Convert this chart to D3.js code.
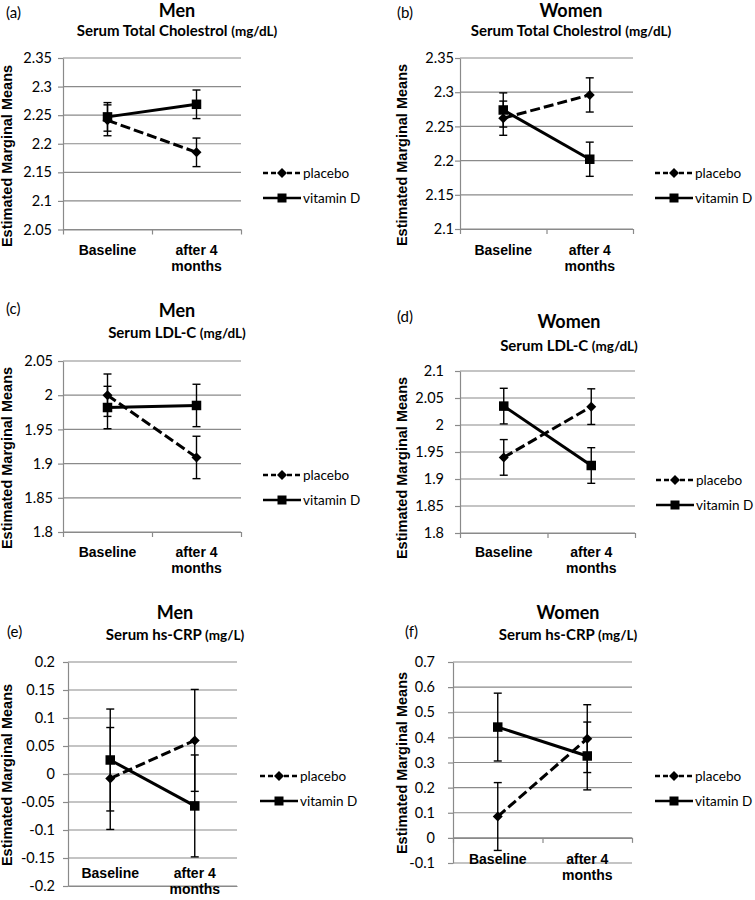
<!DOCTYPE html>
<html>
<head>
<meta charset="utf-8">
<script src="https://cdn.jsdelivr.net/npm/d3@7"></script>
<style>
  body { margin: 0; background: #fff; }
  svg { display: block; }
  .tick text { font-family: Lato, "Open Sans", sans-serif; font-size: 14.5px; fill: #000; }
</style>
</head>
<body>
<div id="chart"></div>
<script>
// Dados
const categories = ["Baseline", "after 4 months"];
const seriesNames = ["placebo", "vitamin D"];
const panelLetters = ["(a)", "(b)", "(c)", "(d)", "(e)", "(f)"];
const panelGroups = ["Men", "Women", "Men", "Women", "Men", "Women"];
const panelMeasures = ["Serum Total Cholestrol", "Serum Total Cholestrol", "Serum LDL-C", "Serum LDL-C", "Serum hs-CRP", "Serum hs-CRP"];
const panelUnits = ["(mg/dL)", "(mg/dL)", "(mg/dL)", "(mg/dL)", "(mg/L)", "(mg/L)"];
const yDomains = [[2.05, 2.35], [2.1, 2.35], [1.8, 2.05], [1.8, 2.1], [-0.2, 0.2], [-0.1, 0.7]];
const yTicks = [
  [2.05, 2.1, 2.15, 2.2, 2.25, 2.3, 2.35],
  [2.1, 2.15, 2.2, 2.25, 2.3, 2.35],
  [1.8, 1.85, 1.9, 1.95, 2, 2.05],
  [1.8, 1.85, 1.9, 1.95, 2, 2.05, 2.1],
  [-0.2, -0.15, -0.1, -0.05, 0, 0.05, 0.1, 0.15, 0.2],
  [-0.1, 0, 0.1, 0.2, 0.3, 0.4, 0.5, 0.6, 0.7]
];
const placeboMeans = [[2.241, 2.185], [2.262, 2.296], [2.000, 1.909], [1.940, 2.034], [-0.008, 0.060], [0.085, 0.395]];
const placeboErr = [[0.027, 0.025], [0.025, 0.025], [0.031, 0.031], [0.033, 0.033], [0.091, 0.091], [0.135, 0.135]];
const vitaminDMeans = [[2.247, 2.269], [2.274, 2.202], [1.982, 1.985], [2.035, 1.925], [0.025, -0.057], [0.441, 0.326]];
const vitaminDErr = [[0.025, 0.025], [0.025, 0.025], [0.031, 0.031], [0.033, 0.033], [0.091, 0.091], [0.135, 0.135]];
const xAxisAt = [2.05, 2.1, 1.8, 1.8, -0.2, 0];

// Posições de cada painel
const layout = [
  { left: 63, right: 241, top: 58, bottom: 229.5, cx: 177, titleY: 17, subY: 36, letterX: 6, letterY: 18, yTitleX: 12, yTitleY: 156, gap: 11, labelY: 255, legX: 263, legY: 173, xTicks: 5 },
  { left: 460, right: 633, top: 58, bottom: 229, cx: 571, titleY: 17, subY: 36, letterX: 397, letterY: 18, yTitleX: 407, yTitleY: 155, gap: 6, labelY: 255, legX: 655, legY: 173, xTicks: 5 },
  { left: 63, right: 241, top: 361, bottom: 532, cx: 177, titleY: 317, subY: 338, letterX: 6, letterY: 314, yTitleX: 12, yTitleY: 458, gap: 10, labelY: 557, legX: 263, legY: 475, xTicks: 5 },
  { left: 460, right: 635, top: 371, bottom: 533, cx: 569, titleY: 328, subY: 351, letterX: 397, letterY: 322, yTitleX: 407, yTitleY: 468, gap: 16, labelY: 557, legX: 656, legY: 480, xTicks: 5 },
  { left: 68, right: 237, top: 662, bottom: 886, cx: 175, titleY: 619, subY: 640, letterX: 7, letterY: 637, yTitleX: 12, yTitleY: 775, gap: 13, labelY: 878, legX: 260, legY: 776, xTicks: 0 },
  { left: 453, right: 632, top: 662, bottom: 863, cx: 568, titleY: 619, subY: 640, letterX: 405, letterY: 637, yTitleX: 407, yTitleY: 763, gap: 18, labelY: 864, legX: 655, legY: 776, xTicks: 5 }
];

const width = 755, height = 900;
const gridColor = "#8a8a8a";
const calibri = "Lato, 'Open Sans', sans-serif";
const arial = "'Liberation Sans', Arial, sans-serif";

const svg = d3.select("#chart").append("svg")
  .attr("width", width)
  .attr("height", height);

function drawDiamond(g, x, y, r) {
  g.append("path")
    .attr("d", `M${x},${y - r}L${x + r},${y}L${x},${y + r}L${x - r},${y}Z`)
    .attr("fill", "#000");
}

function drawSquare(g, x, y, s) {
  g.append("rect")
    .attr("x", x - s / 2).attr("y", y - s / 2)
    .attr("width", s).attr("height", s)
    .attr("fill", "#000");
}

layout.forEach((L, i) => {
  const g = svg.append("g");
  const x = d3.scaleBand().domain(categories).range([L.left, L.right]);
  const y = d3.scaleLinear().domain(yDomains[i]).range([L.bottom, L.top]);
  const cxOf = c => x(c) + x.bandwidth() / 2;

  // grade
  g.selectAll(".grid")
    .data(yTicks[i])
    .enter().append("line")
    .attr("x1", L.left).attr("x2", L.right)
    .attr("y1", d => y(d)).attr("y2", d => y(d))
    .attr("stroke", gridColor).attr("stroke-width", 1.2);

  // eixo y
  const yAxis = g.append("g")
    .attr("transform", `translate(${L.left},0)`)
    .call(d3.axisLeft(y).tickValues(yTicks[i]).tickSize(5).tickSizeOuter(0)
      .tickPadding(L.gap - 5).tickFormat(d => String(+d.toFixed(2))));
  yAxis.select(".domain").attr("stroke", gridColor).attr("stroke-width", 1.2);
  yAxis.selectAll(".tick line").attr("stroke", gridColor).attr("stroke-width", 1.2);

  // eixo x (marcas nas divisões das categorias)
  const xb = d3.scaleLinear().domain([0, categories.length]).range([L.left, L.right]);
  const xAxis = g.append("g")
    .attr("transform", `translate(0,${y(xAxisAt[i])})`)
    .call(d3.axisBottom(xb).tickValues(d3.range(categories.length + 1))
      .tickSize(L.xTicks).tickSizeOuter(0).tickFormat(""));
  xAxis.select(".domain").attr("stroke", gridColor).attr("stroke-width", 1.2);
  xAxis.selectAll(".tick line").attr("stroke", gridColor).attr("stroke-width", 1.2);

  // rótulos das categorias
  categories.forEach(c => {
    const lines = c === "after 4 months" ? ["after 4", "months"] : [c];
    const t = g.append("text")
      .attr("text-anchor", "middle")
      .attr("font-family", arial)
      .attr("font-weight", "bold")
      .attr("font-size", "14px")
      .attr("y", L.labelY);
    lines.forEach((s, k) => {
      t.append("tspan").attr("x", cxOf(c)).attr("dy", k ? 16 : 0).text(s);
    });
  });

  // séries
  const series = [
    { name: seriesNames[0], means: placeboMeans[i], errs: placeboErr[i], dash: "10,4", marker: "diamond" },
    { name: seriesNames[1], means: vitaminDMeans[i], errs: vitaminDErr[i], dash: null, marker: "square" }
  ];

  series.forEach(s => {
    const pts = categories.map((c, k) => ({ x: cxOf(c), m: s.means[k], e: s.errs[k] }));
    g.append("path")
      .attr("d", d3.line().x(d => d.x).y(d => y(d.m))(pts))
      .attr("fill", "none")
      .attr("stroke", "#000")
      .attr("stroke-width", 3)
      .attr("stroke-dasharray", s.dash);
    pts.forEach(p => {
      g.append("line")
        .attr("x1", p.x).attr("x2", p.x)
        .attr("y1", y(p.m - p.e)).attr("y2", y(p.m + p.e))
        .attr("stroke", "#000").attr("stroke-width", 1.4);
      [p.m - p.e, p.m + p.e].forEach(v => {
        g.append("line")
          .attr("x1", p.x - 4).attr("x2", p.x + 4)
          .attr("y1", y(v)).attr("y2", y(v))
          .attr("stroke", "#000").attr("stroke-width", 1.4);
      });
      if (s.marker === "diamond") drawDiamond(g, p.x, y(p.m), 5);
      else drawSquare(g, p.x, y(p.m), 9.5);
    });
  });

  // legenda
  series.forEach((s, k) => {
    const ly = L.legY + k * 25;
    g.append("line")
      .attr("x1", L.legX).attr("x2", L.legX + 38)
      .attr("y1", ly).attr("y2", ly)
      .attr("stroke", "#000").attr("stroke-width", 2.5)
      .attr("stroke-dasharray", s.dash ? "5,3" : null);
    if (s.marker === "diamond") drawDiamond(g, L.legX + 19, ly, 5);
    else drawSquare(g, L.legX + 19, ly, 9);
    g.append("text")
      .attr("x", L.legX + 40).attr("y", ly + 5)
      .attr("font-family", calibri).attr("font-size", "13.5px")
      .text(s.name);
  });

  // títulos
  g.append("text")
    .attr("x", L.cx).attr("y", L.titleY)
    .attr("text-anchor", "middle")
    .attr("font-family", calibri).attr("font-weight", "bold").attr("font-size", "18px")
    .text(panelGroups[i]);
  const sub = g.append("text")
    .attr("x", L.cx).attr("y", L.subY)
    .attr("text-anchor", "middle")
    .attr("font-family", calibri).attr("font-weight", "bold").attr("font-size", "15px");
  sub.append("tspan").text(panelMeasures[i] + " ");
  sub.append("tspan").attr("font-size", "13.5px").text(panelUnits[i]);

  g.append("text")
    .attr("x", L.letterX).attr("y", L.letterY)
    .attr("font-family", calibri).attr("font-size", "15px")
    .text(panelLetters[i]);

  g.append("text")
    .attr("transform", `translate(${L.yTitleX},${L.yTitleY}) rotate(-90)`)
    .attr("text-anchor", "middle")
    .attr("font-family", arial).attr("font-weight", "bold").attr("font-size", "14.5px")
    .text("Estimated Marginal Means");
});
</script>
</body>
</html>
